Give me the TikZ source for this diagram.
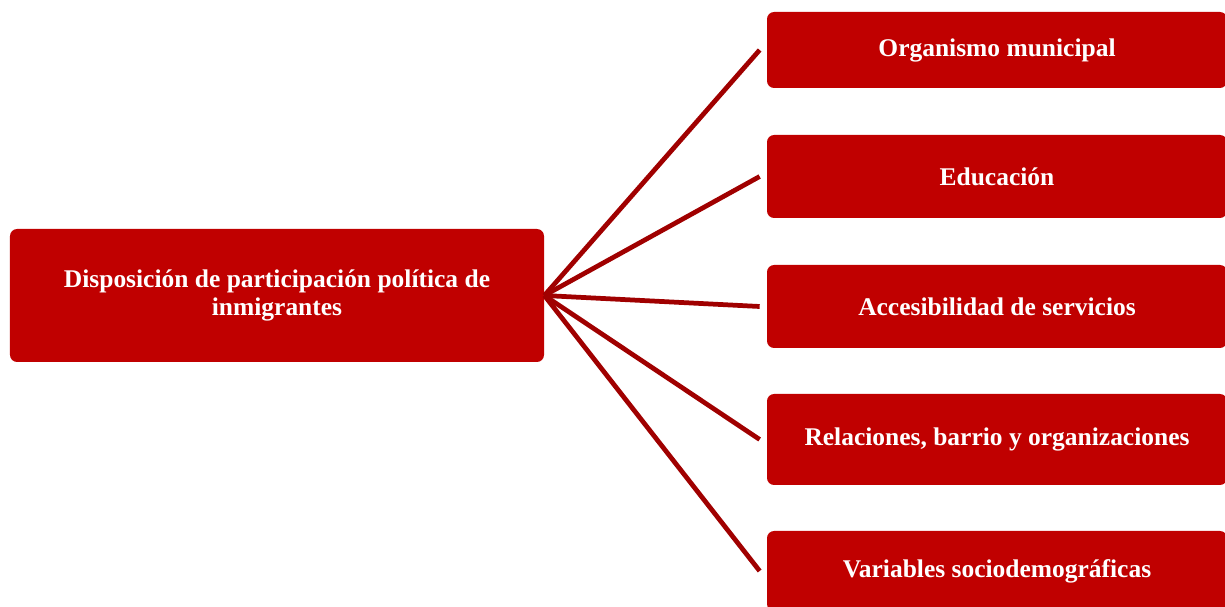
\documentclass[tikz,border=0pt]{standalone}
\usepackage{fontspec}
\setmainfont{Liberation Serif}
\usepackage{tikz}
\usetikzlibrary{arrows, arrows.meta}
\usetikzlibrary{shapes}
\definecolor{boxred}{HTML}{C00000}
\definecolor{linered}{HTML}{A00000}
\tikzset{redbox/.style={fill=boxred, draw=none, rounded corners=4pt, text=white, font=\bfseries\fontsize{14.5}{15.5}\selectfont, align=center, inner sep=0pt}}
\tikzset{branch/.style={linered, line width=2.7pt}}

\begin{document}
\begin{tikzpicture}
      \useasboundingbox (0,0) rectangle (24.5,12.12);
      \node[redbox, minimum width=10.68cm, minimum height=2.66cm] (disp) at (5.54,6.21) {Disposición de participación política de\\inmigrantes};
      \node[redbox, minimum width=9.2cm, minimum height=1.52cm] (org) at (19.94,11.12) {Organismo municipal};
      \node[redbox, minimum width=9.2cm, minimum height=1.66cm] (edu) at (19.94,8.59) {Educación};
      \node[redbox, minimum width=9.2cm, minimum height=1.66cm] (acc) at (19.94,5.99) {Accesibilidad de servicios};
      \node[redbox, minimum width=9.2cm, minimum height=1.82cm] (rel) at (19.94,3.33) {Relaciones, barrio y organizaciones};
      \node[redbox, minimum width=9.2cm, minimum height=1.6cm] (var) at (19.94,0.7) {Variables sociodemográficas};
      \draw[branch] (disp.east) -- ([xshift=-0.14cm]org.west);
      \draw[branch] (disp.east) -- ([xshift=-0.14cm]edu.west);
      \draw[branch] (disp.east) -- ([xshift=-0.14cm]acc.west);
      \draw[branch] (disp.east) -- ([xshift=-0.14cm]rel.west);
      \draw[branch] (disp.east) -- ([xshift=-0.14cm]var.west);
\end{tikzpicture}
\end{document}
